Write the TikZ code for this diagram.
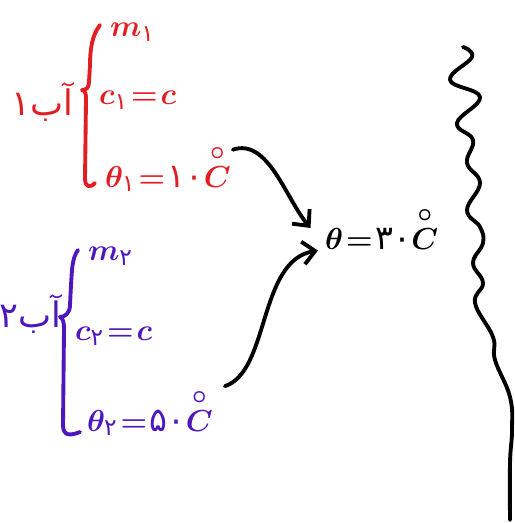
\documentclass[tikz,border=0pt]{standalone}
\usepackage{amsmath,amssymb}
\usepackage{fontspec}
\usetikzlibrary{arrows.meta}
\TeXXeTstate=1
\newfontfamily\farsifont[Script=Arabic]{DejaVu Sans}
\newcommand{\fa}[1]{\text{\farsifont #1}}
\newcommand{\degC}{\overset{\circ}{C}}
\newcommand{\tightrel}{\thickmuskip=1.5mu\relax}
\definecolor{inkred}{RGB}{226,30,36}
\definecolor{inkblue}{RGB}{78,22,190}

\begin{document}
\begin{tikzpicture}[x=0.02cm, y=-0.02cm,
	every node/.style={font=\fontsize{19}{23}\selectfont\boldmath\tightrel, inner sep=1pt},
	ink/.style={line width=2.2pt, line cap=round, line join=round},
	flow/.style={ink, -{Straight Barb[length=7pt, width=13pt]}}]
	\useasboundingbox (0,0) rectangle (514,523);

	% water 1
	\node[inkred] (w1) at (42,102) {\fontsize{20}{24}\selectfont\farsifont\beginR آب۱\endR};
	\draw[ink, inkred] (100,25) .. controls (92,35) and (90,50) .. (90,65) -- (89,82)
		.. controls (89,88) and (86,90) .. (82,90) .. controls (86,91) and (86,95) .. (86,100)
		-- (85,178) .. controls (85,188) and (90,188) .. (95,183);
	\node[inkred, anchor=west] (m1) at (108,32) {$m_{\fa{۱}}$};
	\node[inkred, anchor=west] (c1) at (97,100) {$c_{\fa{۱}}=c$};
	\node[inkred, anchor=west] (t1) at (103,168) {$\theta_{\fa{۱}}=\fa{۱۰}\degC$};

	% water 2
	\node[inkblue] (w2) at (30,314) {\fontsize{20}{24}\selectfont\farsifont\beginR آب۲\endR};
	\draw[ink, inkblue] (78,250) .. controls (72,258) and (72,270) .. (71,285) -- (70,305)
		.. controls (70,313) and (65,317) .. (60,317) .. controls (63,318) and (64,322) .. (64,330)
		-- (63,425) .. controls (63,436) and (70,436) .. (80,432);
	\node[inkblue, anchor=west] (m2) at (86,256) {$m_{\fa{۲}}$};
	\node[inkblue, anchor=west] (c2) at (73,336) {$c_{\fa{۲}}=c$};
	\node[inkblue, anchor=west] (t2) at (85,412) {$\theta_{\fa{۲}}=\fa{۵۰}\degC$};

	% mixture
	\node[anchor=west] (t) at (323,228) {$\theta=\fa{۳۰}\degC$};
	\draw[flow] ([yshift=-0.15cm]t1.north east) .. controls +(35,-12) and +(-25,-30) .. ([xshift=-0.25cm]t.west);
	\draw[flow] ([xshift=0.2cm]t2.north east) .. controls +(45,-15) and +(-60,10) .. ([xshift=-0.1cm,yshift=-0.45cm]t.west);

	% wall
	\draw[ink] plot[smooth, tension=0.7] coordinates {(463,47) (472,57) (450,80) (480,97)
		(457,123) (473,140) (467,163) (480,183) (467,210) (480,227) (483,243) (473,263)
		(483,283) (475,303) (493,337) (495,360) (510,397) (512,430) (510,463) (510,520)};
\end{tikzpicture}
\end{document}
